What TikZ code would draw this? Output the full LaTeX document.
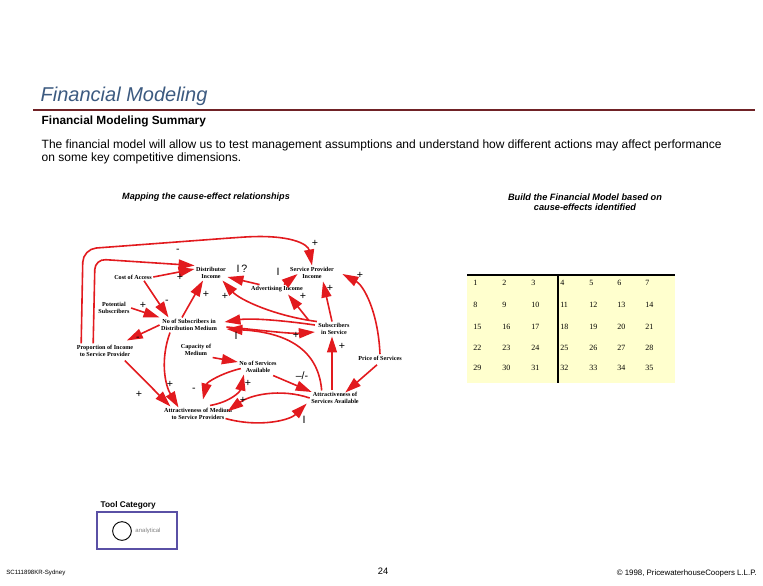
\documentclass[tikz,border=0pt]{standalone}
\usepackage{fontspec}
\setmainfont{Liberation Sans}
\newfontfamily\timesfont{Liberation Serif}
\usepackage{tikz}
\usetikzlibrary{arrows.meta}
\definecolor{linkred}{RGB}{226,26,30}
\definecolor{titleblue}{RGB}{60,90,128}
\definecolor{rulemaroon}{RGB}{112,34,38}
\definecolor{gridyellow}{RGB}{255,255,206}
\definecolor{boxblue}{RGB}{90,80,165}

\begin{document}
\begin{tikzpicture}[x=0.75pt,y=-0.75pt,
        var/.style={font=\timesfont\bfseries\fontsize{4.6}{5.6}\selectfont, align=center, inner sep=1pt},
        sgn/.style={font=\fontsize{8}{8}\selectfont, inner sep=0pt},
        link/.style={draw=linkred, line width=1.2pt, -{Triangle[length=12pt,width=7.5pt]}},
        num/.style={font=\timesfont\fontsize{6}{6}\selectfont, anchor=west, inner sep=0pt}]
    \useasboundingbox (0,0) rectangle (763,585);

    % heading
    \node[anchor=west, text=titleblue, font=\itshape\fontsize{15}{18}\selectfont] (title) at (36,96) {Financial Modeling};
    \draw[rulemaroon, line width=1.5pt] (33,110) -- (755,110);
    \node[anchor=west, font=\bfseries\fontsize{8.9}{10}\selectfont] (subtitle) at (37,121) {Financial Modeling Summary};
    \node[anchor=west, align=left, font=\fontsize{9}{9.75}\selectfont] (intro) at (37,151.5)
        {The financial model will allow us to test management assumptions and understand how different actions may affect performance\\
         on some key competitive dimensions.};
    \node[font=\bfseries\itshape\fontsize{6.8}{7.5}\selectfont] (maphead) at (206,197) {Mapping the cause-effect relationships};
    \node[align=center, font=\bfseries\itshape\fontsize{6.9}{7.5}\selectfont] (buildhead) at (585,202)
        {Build the Financial Model based on\\cause-effects identified};

    % cause-effect map
    \node[var] (dinc) at (211,273) {Distributor\\Income};
    \node[var] (cost) at (133,277) {Cost of Access};
    \node[var] (spinc) at (312,273) {Service Provider\\Income};
    \node[var] (adv) at (277,289) {Advertising Income};
    \node[var] (pot) at (114,308) {Potential\\Subscribers};
    \node[var] (nsub) at (189,325) {No of Subscribers in\\Distribution Medium};
    \node[var] (ssvc) at (334,329) {Subscribers\\in Service};
    \node[var] (prop) at (105,351) {Proportion of Income\\to Service Provider};
    \node[var] (cap) at (196,350) {Capacity of\\Medium};
    \node[var] (nserv) at (258,367) {No of Services\\Available};
    \node[var] (price) at (380,358) {Price of Services};
    \node[var] (attsv) at (335,398) {Attractiveness of\\Services Available};
    \node[var] (attmd) at (198,414) {Attractiveness of Medium\\to Service Providers};

    \draw[link, rounded corners=10] ([shift={(6,0)}]prop.north west) -- (83,249) -- (230,238)
        .. controls (290,234) and (308,244) .. (spinc.north);
    \draw[link, rounded corners=8] ([shift={(18,0)}]prop.north west) -- (95,259) -- (dinc.north west);
    \draw[link] (cost.east) -- ([shift={(0,-4)}]dinc.west);
    \draw[link] ([shift={(11,0)}]cost.south) -- ([shift={(9,0)}]nsub.north west);
    \draw[link] (pot.east) -- (nsub.north west);
    \draw[link] ([shift={(-7,0)}]nsub.north) -- ([shift={(-8,0)}]dinc.south);
    \draw[link] (ssvc.north west) .. controls (275,316) and (240,300) .. ([shift={(-5,0)}]dinc.south east);
    \draw[link] ([shift={(10,0)}]adv.north west) -- ([shift={(0,4)}]dinc.east);
    \draw[link] ([shift={(7,0)}]adv.north) -- ([shift={(9,1)}]spinc.west);
    \draw[link] ([shift={(-8,-1)}]ssvc.north west) -- ([shift={(11,1)}]adv.south);
    \draw[link] ([shift={(-2,0)}]ssvc.north) -- ([shift={(11,1)}]spinc.south);
    \draw[link] (price.north) .. controls (378,310) and (363,285) .. ([shift={(7,1)}]spinc.east);
    \draw[link] ([shift={(-2,-4)}]ssvc.west) .. controls (280,320) and (250,318) .. ([shift={(6,-3)}]nsub.east);
    \draw[link] ([shift={(8,2)}]nsub.east) .. controls (260,330) and (290,334) .. ([shift={(-2,3)}]ssvc.west);
    \draw[link] ([shift={(12,0)}]attsv.north west) .. controls (318,345) and (280,332) .. ([shift={(8,4)}]nsub.east);
    \draw[link] ([shift={(-3,0)}]attsv.north) -- ([shift={(-2,0)}]ssvc.south);
    \draw[link] ([shift={(-3,3)}]price.south) -- ([shift={(-15,2)}]attsv.north east);
    \draw[link] ([shift={(-5,1)}]nserv.south east) -- ([shift={(2,-6)}]attsv.west);
    \draw[link] (cap.south east) -- ([shift={(0,-5)}]nserv.west);
    \draw[link] ([shift={(3,-6)}]nserv.south west) .. controls (222,373) and (207,382) .. ([shift={(5,-7)}]attmd.north);
    \draw[link] ([shift={(12,-1)}]attmd.north) .. controls (230,402) and (240,392) .. ([shift={(6,0)}]nserv.south west);
    \draw[link] (attsv.west) .. controls (280,388) and (250,395) .. ([shift={(-6,5)}]attmd.north east);
    \draw[link] ([shift={(-8,-3)}]attmd.south east) .. controls (260,428) and (290,420) .. ([shift={(-3,-2)}]attsv.south west);
    \draw[link] (nsub.west) -- ([shift={(-8,-3)}]prop.north east);
    \draw[link] ([shift={(-10,2)}]prop.south east) -- ([shift={(8,0)}]attmd.north west);
    \draw[link] ([shift={(-19,0)}]nsub.south) .. controls (160,360) and (165,385) .. ([shift={(16,1)}]attmd.north west);

    % polarity marks
    \node[sgn] (pl1) at (315,243) {+};
    \node[sgn] (mi1) at (178,251) {-};
    \node[sgn] (pl2) at (180,277) {+};
    \node[sgn] (mi2) at (167,302) {-};
    \node[sgn] (pl3) at (143,305) {+};
    \node[sgn] (pl4) at (206,294) {+};
    \node[sgn] (pl5) at (225,296) {+};
    \node[sgn] (qm1) at (242,269) {I\,?};
    \node[sgn] (ib1) at (278,272) {I};
    \node[sgn] (pl6) at (303,296) {+};
    \node[sgn] (pl7) at (330,288) {+};
    \node[sgn] (pl8) at (360,275) {+};
    \node[sgn] (pl9) at (296,335) {+};
    \node[sgn] (ib2) at (236,336) {I};
    \node[sgn] (mi3) at (138,339) {-};
    \node[sgn] (pl10) at (342,346) {+};
    \node[sgn] (pm1) at (302,376) {--/-};
    \node[sgn] (pl11) at (170,384) {+};
    \node[sgn] (pl12) at (139,394) {+};
    \node[sgn] (mi4) at (194,390) {-};
    \node[sgn] (pl13) at (248,383) {+};
    \node[sgn] (pl14) at (243,400) {+};
    \node[sgn] (ib3) at (304,420) {I};

    % model grid
    \fill[gridyellow] (467,275) rectangle (675,383);
    \draw[line width=0.8pt] (467,275) -- (675,275);
    \draw[line width=0.8pt] (558,275) -- (558,383);
    \foreach \ry [count=\r from 0] in {283,305,327,348,368}
        \foreach \cx [count=\c from 1] in {473,502,531,560,589,617,645} {
            \pgfmathtruncatemacro\dd{7*\r+\c}
            \node[num] (d\dd) at (\cx,\ry) {\dd};
        }

    % tool category
    \node[anchor=west, font=\bfseries\fontsize{6.2}{7}\selectfont] (toolhead) at (96,505) {Tool Category};
    \draw[boxblue, line width=1.2pt] (97,512) rectangle (177,549);
    \node[circle, draw, line width=0.7pt, minimum size=14pt, inner sep=0pt] (toolmark) at (122,531) {};
    \node[text=gray, font=\fontsize{4.5}{5}\selectfont] (tooltext) at (148,531) {analytical};

    % footer
    \node[anchor=west, inner sep=0pt, font=\fontsize{4.6}{5}\selectfont] (docid) at (6,573) {SC111898KR-Sydney};
    \node[font=\fontsize{7}{8}\selectfont] (page) at (383,571) {24};
    \node[anchor=east, inner sep=0pt, font=\fontsize{5.9}{6}\selectfont] (copy) at (757,573) {\textcopyright\ 1998, PricewaterhouseCoopers L.L.P.};
\end{tikzpicture}
\end{document}
